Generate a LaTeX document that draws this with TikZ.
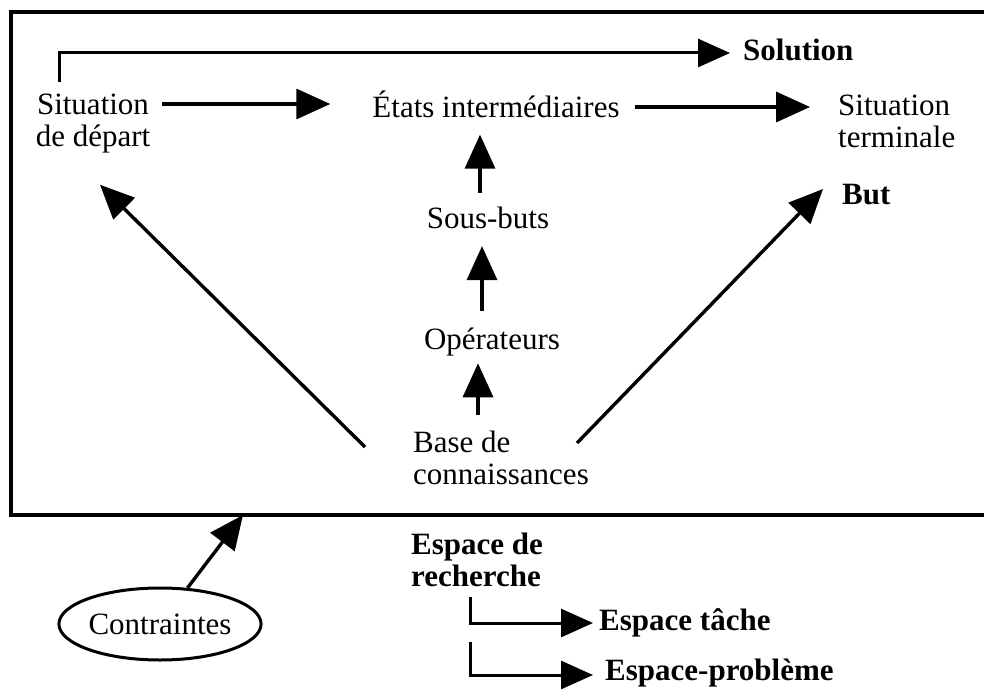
\documentclass[tikz,border=0pt]{standalone}
\usepackage{fontspec}
\setmainfont{Liberation Serif}
\usetikzlibrary{arrows.meta,shapes.geometric,calc}
\begin{document}
\begin{tikzpicture}[x=1pt,y=-1pt,
  lbl/.style={inner sep=0pt, font=\fontsize{31}{32}\selectfont, align=left},
  blbl/.style={inner sep=0pt, font=\fontsize{31}{32}\selectfont\bfseries, align=left},
  arr/.style={line width=3.4pt, -{Triangle[length=34pt,width=30pt]}},
  elbow/.style={line width=3pt, -{Triangle[length=32pt,width=28pt]}}]
\useasboundingbox (0,0) rectangle (984,690);
\fill[white] (0,0) rectangle (984,690);

% frame of the search space (open on the right)
\coordinate (frtop) at (984,12);
\coordinate (frtl) at (11,12);
\coordinate (frbl) at (11,515);
\coordinate (frbot) at (984,515);
\draw[line width=3.6pt] (frtop) -- (frtl) -- (frbl) -- (frbot);

% labels inside the frame
\node[lbl, align=center] (dep) at (93,124) {Situation\\de départ};
\node[lbl] (etats) at (496,104) {États intermédiaires};
\node[lbl, anchor=west] (term) at (838,121) {Situation\\terminale};
\node[blbl, anchor=west] (sol) at (743,50) {Solution};
\node[blbl, anchor=west] (but) at (842,195) {But};
\node[lbl] (sous) at (488,218) {Sous-buts};
\node[lbl] (oper) at (492,342) {Opérateurs};
\node[lbl, anchor=west] (base) at (413,458) {Base de\\connaissances};

% labels below the frame
\node[lbl, draw, ellipse, line width=3pt, minimum width=194pt, minimum height=72pt] (cont) at (160,624) {Contraintes};
\node[blbl, anchor=west] (esp) at (411,560) {Espace de\\recherche};
\node[blbl, anchor=west] (tache) at (599,623) {Espace tâche};
\node[blbl, anchor=west] (prob) at (605,673) {Espace-problème};
\coordinate (cin) at (243,515);

% connectors inside the frame
\draw[elbow] ($(dep.north)+(-34,-12)$) |- ($(sol.west)+(-13,3)$);
\draw[arr, shorten <=12pt, shorten >=42pt] (dep.east |- etats.west) -- (etats.west);
\draw[arr, shorten <=15pt, shorten >=28pt] ($(etats.east)+(0,3)$) -- ($(etats.east -| term.west)+(0,3)$);
\draw[arr, shorten <=14pt, shorten >=17pt] ($(sous.north)+(-8,0)$) -- ($(sous.north |- etats.south)+(-8,0)$);
\draw[arr, shorten <=17pt, shorten >=17pt] ($(oper.north)+(-10,0)$) -- ($(oper.north |- sous.south)+(-10,0)$);
\draw[arr, shorten <=16pt, shorten >=7pt] ($(oper.south |- base.north)+(-14,0)$) -- ($(oper.south)+(-14,0)$);
\draw[arr] ($(base.west)+(-48,-11)$) -- ($(dep.south)+(7,31)$);
\draw[arr] ($(base.east)+(-12,-15)$) -- ($(but.west)+(-19,-6)$);

% connectors below the frame
\draw[arr] (cont) -- (cin);
\draw[elbow] ($(esp.south west)+(59,10)$) |- ($(tache.west)+(-6,0)$);
\draw[elbow] ($(esp.south west)+(59,55)$) |- ($(prob.west)+(-12,2)$);
\end{tikzpicture}
\end{document}
